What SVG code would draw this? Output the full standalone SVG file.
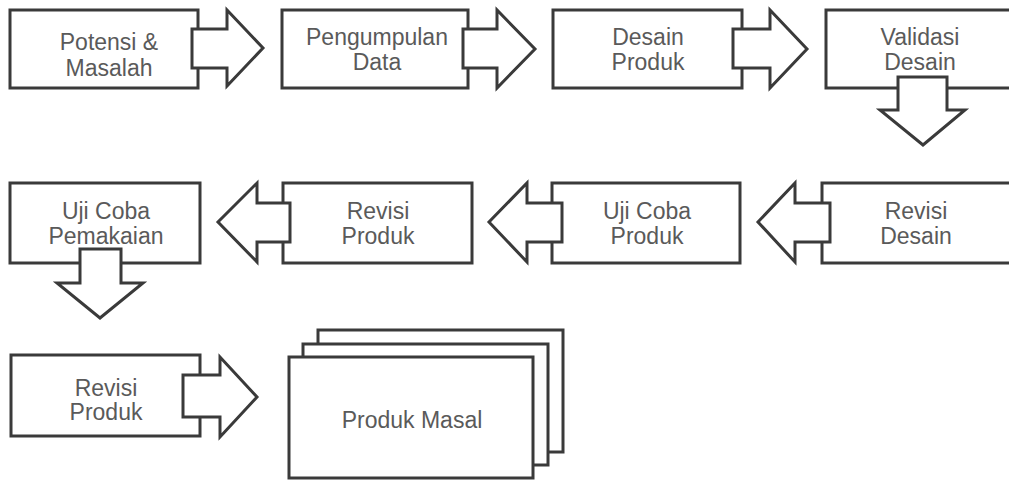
<svg xmlns="http://www.w3.org/2000/svg" width="1009" height="482" viewBox="0 0 1009 482">
<style>
.box{fill:#fff;stroke:#3a3a3a;stroke-width:3}
.arr{fill:#fff;stroke:#3a3a3a;stroke-width:3;stroke-linejoin:miter}
.t{font-family:"Liberation Sans",Arial,sans-serif;font-size:23px;fill:#5a5a5a;text-anchor:middle}
</style>
<rect width="1009" height="482" fill="#fff"/>
<g id="n1"><rect class="box" x="10" y="10" width="188" height="78"/><text class="t" x="109" y="50">Potensi &amp;</text><text class="t" x="109" y="76">Masalah</text></g>
<g id="n2"><rect class="box" x="282" y="10" width="186" height="78"/><text class="t" x="377" y="45">Pengumpulan</text><text class="t" x="377" y="70">Data</text></g>
<g id="n3"><rect class="box" x="553" y="10" width="189" height="78"/><text class="t" x="648" y="45">Desain</text><text class="t" x="648" y="70">Produk</text></g>
<g id="n4"><rect class="box" x="826" y="10" width="190" height="78"/><text class="t" x="920" y="45">Validasi</text><text class="t" x="920" y="70">Desain</text></g>
<g id="n5"><rect class="box" x="822" y="183" width="194" height="80"/><text class="t" x="916" y="219">Revisi</text><text class="t" x="916" y="244">Desain</text></g>
<g id="n6"><rect class="box" x="552" y="183" width="188" height="80"/><text class="t" x="647" y="219">Uji Coba</text><text class="t" x="647" y="244">Produk</text></g>
<g id="n7"><rect class="box" x="283" y="183" width="189" height="80"/><text class="t" x="378" y="219">Revisi</text><text class="t" x="378" y="244">Produk</text></g>
<g id="n8"><rect class="box" x="10" y="183" width="190" height="80"/><text class="t" x="106" y="219">Uji Coba</text><text class="t" x="106" y="244">Pemakaian</text></g>
<g id="n9"><rect class="box" x="11" y="355" width="189" height="81"/><text class="t" x="106" y="396">Revisi</text><text class="t" x="106" y="420">Produk</text></g>
<g id="n10"><rect class="box" x="318" y="330" width="245" height="122"/><rect class="box" x="303" y="344" width="245" height="121"/><rect class="box" x="289" y="357" width="244" height="121"/><text class="t" x="412" y="428">Produk Masal</text></g>
<g id="connectors">
<polygon class="arr" points="192,29 227,29 227,10 263,48 227,86 227,68 192,68"/>
<polygon class="arr" points="463,29 497,29 497,10 535,49 497,88 497,68 463,68"/>
<polygon class="arr" points="733,29 770,29 770,10 807,49 770,88 770,68 733,68"/>
<polygon class="arr" points="898,77 947,77 947,110 965,110 923,145 880,110 898,110"/>
<polygon class="arr" points="830,203 795,203 795,183 758,222 795,262 795,242 830,242"/>
<polygon class="arr" points="562,203 527,203 527,183 489,222 527,262 527,242 562,242"/>
<polygon class="arr" points="290,203 257,203 257,183 218,222 257,262 257,242 290,242"/>
<polygon class="arr" points="80,249 121,249 121,283 143,283 100,318 57,283 80,283"/>
<polygon class="arr" points="183,375 220,375 220,357 257,397 220,437 220,417 183,417"/>
</g>
</svg>
